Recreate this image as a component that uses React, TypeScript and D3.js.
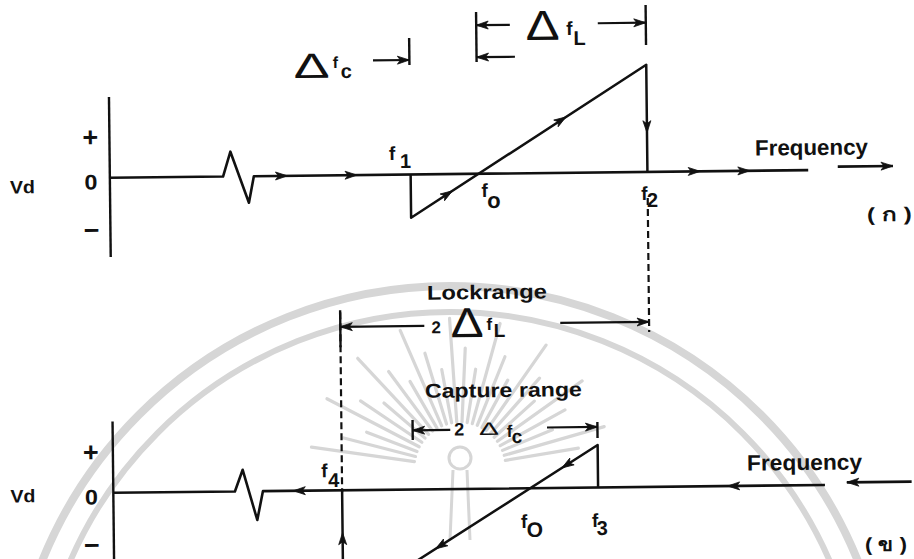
import React from "react";
import * as d3 from "d3";

type Pt = [number, number];

const WIDTH = 914;
const HEIGHT = 559;

// Frequency is in arbitrary units measured from the Vd axis (0–100 across the figure);
// Vd is in units of the axis half-height.

// (ก) input frequency swept upwards
const upKeyFreqs = [37.6, 46.0, 67.2]; // f1, f0, f2
const upKeySubs = ["1", "o", "2"];
const upBaseline: Pt[] = [[0, 0], [14.15, 0], [15.1, 0.31], [17.35, -0.33], [18.0, 0], [87.3, 0]];
const upResponse: Pt[] = [[37.6, 0], [37.6, -0.54], [67.2, 1.34], [67.2, 0]];
const upBaseArrows = [22.2, 30.9, 73.8, 80.0];
const upRampArrows = [42.8, 57.1];
const upEdgeArrows = [0.49];
const upTail: Pt[] = [[91.0, 0.04], [97.9, 0.04]];
const upAxisRange = [-0.99, 1.01];

// (ข) input frequency swept downwards
const downKeyFreqs = [28.6, 52.1, 60.6]; // f4, f0, f3
const downKeySubs = ["4", "O", "3"];
const downBaseline: Pt[] = [[0, 0], [15.2, 0], [16.2, 0.27], [17.96, -0.36], [18.7, 0], [88.96, 0]];
const downResponse: Pt[] = [[60.6, 0], [60.6, 0.53], [28.6, -1.47], [28.6, 0]];
const downBaseArrows = [76.8, 22.5];
const downRampArrows = [56.1, 40.2];
const downEdgeArrows = [-0.53];
const downTail: Pt[] = [[99.8, 0.03], [91.7, 0.03]];
const downAxisRange = [-1.2, 0.89];

const vTickValues = [0.5, -0.05, -0.66];
const vTickLabels = ["+", "0", "\u2212"];
const panelTags = ["( ก )", "( ข )"];

// span markers: [from, to] in frequency units
const captureHalfSpan: Pt = [33.05, 37.6];
const lockHalfSpan: Pt = [46.0, 67.2];
const lockSpan: Pt = [28.6, 67.2];
const captureSpan: Pt = [37.5, 60.6];

const FONT = "'Liberation Sans', Arial, sans-serif";
const INK = "#111";
const WATERMARK = "#d6d6d6";

const x = d3.scaleLinear().domain([0, 100]).range([111, 911]);
const yUp = d3.scaleLinear().domain([-1, 1]).range([254, 94]);
const yDown = d3.scaleLinear().domain([-1, 1]).range([569, 409]);

function Arrowhead({ px, py, angle }: { px: number; py: number; angle: number }) {
  return (
    <path
      d="M0,0 L-12,-4 L-9,0 L-12,4 Z"
      fill={INK}
      stroke={INK}
      strokeWidth={0.8}
      strokeLinejoin="round"
      transform={`translate(${px},${py}) rotate(${angle})`}
    />
  );
}

function angleOf(dx: number, dy: number) {
  return (Math.atan2(dy, dx) * 180) / Math.PI;
}

function interpV(a: Pt, b: Pt, f: number) {
  return a[1] + ((f - a[0]) / (b[0] - a[0])) * (b[1] - a[1]);
}

type PanelProps = {
  y: d3.ScaleLinear<number, number>;
  baseline: Pt[];
  response: Pt[];
  baseArrows: number[];
  rampArrows: number[];
  edgeArrows: number[];
  tail: Pt[];
  axisRange: number[];
  sweep: number;
  keyFreqs: number[];
  keySubs: string[];
  keyOffsets: { dx: number; dy: number; sx: number; sy: number; size: number }[];
  freqLabel: { x: number; y: number; w: number };
  tag: { text: string; x: number; y: number; w: number };
  vd: { x: number; y: number };
  tickX: number;
};

function Panel(p: PanelProps) {
  const line = d3
    .line<Pt>()
    .x((d) => x(d[0]))
    .y((d) => p.y(d[1]));
  const y0 = p.y(0);
  const rampA = p.response[1];
  const rampB = p.response[2];
  const edgeA = p.response[2];
  const edgeB = p.response[3];
  const rampAngle = angleOf(x(rampB[0]) - x(rampA[0]), p.y(rampB[1]) - p.y(rampA[1]));
  const edgeAngle = angleOf(0, p.y(edgeB[1]) - p.y(edgeA[1]));
  const tailAngle = angleOf(x(p.tail[1][0]) - x(p.tail[0][0]), 0);
  return (
    <g>
      {/* Vd axis */}
      <line
        x1={x(0)}
        x2={x(0)}
        y1={p.y(p.axisRange[1])}
        y2={p.y(p.axisRange[0])}
        stroke={INK}
        strokeWidth={2.4}
      />
      {vTickValues.map((v, i) => (
        <text
          key={i}
          x={p.tickX}
          y={p.y(v) + (i === 1 ? 7.5 : 8.5)}
          textAnchor="middle"
          fontFamily={FONT}
          fontWeight="bold"
          fontSize={i === 1 ? 21 : 27}
          textLength={i === 1 ? 13 : undefined}
          lengthAdjust="spacingAndGlyphs"
          fill={INK}
        >
          {vTickLabels[i]}
        </text>
      ))}
      <text
        x={p.vd.x}
        y={p.vd.y}
        fontFamily={FONT}
        fontWeight="bold"
        fontSize={18}
        textLength={25}
        lengthAdjust="spacingAndGlyphs"
        fill={INK}
      >
        Vd
      </text>
      {/* zero line with the beat-note wiggle */}
      <path d={line(p.baseline) || ""} fill="none" stroke={INK} strokeWidth={2.6} strokeLinejoin="round" />
      {/* phase-detector output while locked */}
      <path d={line(p.response) || ""} fill="none" stroke={INK} strokeWidth={2.5} strokeLinejoin="round" />
      <path d={line(p.tail) || ""} fill="none" stroke={INK} strokeWidth={2.6} />
      <Arrowhead px={x(p.tail[1][0])} py={p.y(p.tail[1][1])} angle={tailAngle} />
      {p.baseArrows.map((f, i) => (
        <Arrowhead key={`b${i}`} px={x(f)} py={y0} angle={p.sweep > 0 ? 0 : 180} />
      ))}
      {p.rampArrows.map((f, i) => (
        <Arrowhead key={`r${i}`} px={x(f)} py={p.y(interpV(rampA, rampB, f))} angle={rampAngle} />
      ))}
      {p.edgeArrows.map((v, i) => (
        <Arrowhead key={`e${i}`} px={x(edgeA[0])} py={p.y(v)} angle={edgeAngle} />
      ))}
      {p.keyFreqs.map((f, i) => {
        const o = p.keyOffsets[i];
        return (
          <g key={`k${i}`} fontFamily={FONT} fontWeight="bold" fill={INK}>
            <text x={x(f) + o.dx} y={y0 + o.dy} fontSize={19}>
              f
            </text>
            <text x={x(f) + o.dx + o.sx} y={y0 + o.dy + o.sy} fontSize={o.size}>
              {p.keySubs[i]}
            </text>
          </g>
        );
      })}
      <text
        x={p.freqLabel.x}
        y={p.freqLabel.y}
        fontFamily={FONT}
        fontWeight="bold"
        fontSize={22}
        textLength={p.freqLabel.w}
        lengthAdjust="spacingAndGlyphs"
        fill={INK}
      >
        Frequency
      </text>
      <text
        x={p.tag.x}
        y={p.tag.y}
        fontFamily={FONT}
        fontWeight="bold"
        fontSize={19}
        textLength={p.tag.w}
        lengthAdjust="spacingAndGlyphs"
        fill={INK}
      >
        {p.tag.text}
      </text>
    </g>
  );
}

function Span({ from, to, y }: { from: number; to: number; y: number }) {
  const a = x(from);
  const b = x(to);
  return (
    <g>
      <line x1={a} x2={b} y1={y} y2={y} stroke={INK} strokeWidth={2.2} />
      <Arrowhead px={b} py={y} angle={b > a ? 0 : 180} />
    </g>
  );
}

function Tick({ f, y1, y2 }: { f: number; y1: number; y2: number }) {
  return <line x1={x(f)} x2={x(f)} y1={y1} y2={y2} stroke={INK} strokeWidth={2.4} />;
}

function Delta({ x0, y0, size, w }: { x0: number; y0: number; size: number; w: number }) {
  return (
    <text
      x={x0}
      y={y0}
      fontFamily={FONT}
      fontWeight="normal"
      fontSize={size}
      textLength={w}
      lengthAdjust="spacingAndGlyphs"
      fill={INK}
    >
      Δ
    </text>
  );
}

function Watermark() {
  const cx = 460;
  const cy = 468;
  const angles = d3.range(188, 354, 6.5);
  return (
    <g stroke={WATERMARK} fill="none">
      <circle cx={450} cy={726} r={440} strokeWidth={8} />
      <circle cx={450} cy={726} r={414} strokeWidth={6} />
      {angles.map((a, i) => {
        const t = (a * Math.PI) / 180;
        const r1 = 46;
        const r2 = i % 3 === 0 ? 150 : i % 3 === 1 ? 120 : 100;
        return (
          <line
            key={i}
            x1={cx + r1 * Math.cos(t)}
            y1={cy + r1 * Math.sin(t)}
            x2={cx + r2 * Math.cos(t)}
            y2={cy + r2 * Math.sin(t)}
            strokeWidth={3.2}
            strokeLinecap="round"
          />
        );
      })}
      <circle cx={460} cy={458} r={11} strokeWidth={3} />
      <path d="M453,470 L450,540 M467,470 L470,540" strokeWidth={3} />
    </g>
  );
}

export default function App() {
  const [, f0u, f2] = upKeyFreqs;
  const [f4, , f3] = downKeyFreqs;
  return (
    <svg
      width={WIDTH}
      height={HEIGHT}
      viewBox={`0 0 ${WIDTH} ${HEIGHT}`}
      style={{ position: "absolute", left: 0, top: 0, background: "#fff" }}
    >
      <rect width={WIDTH} height={HEIGHT} fill="#fff" />
      <Watermark />
      <g transform="rotate(-0.63 457 280)">
        <Panel
          y={yUp}
          baseline={upBaseline}
          response={upResponse}
          baseArrows={upBaseArrows}
          rampArrows={upRampArrows}
          edgeArrows={upEdgeArrows}
          tail={upTail}
          axisRange={upAxisRange}
          sweep={1}
          keyFreqs={upKeyFreqs}
          keySubs={upKeySubs}
          keyOffsets={[
            { dx: -21.5, dy: -14.7, sx: 11, sy: 8, size: 20 },
            { dx: 3.5, dy: 23.3, sx: 5.5, sy: 11, size: 22 },
            { dx: -6.4, dy: 28, sx: 5.5, sy: 7, size: 20 },
          ]}
          freqLabel={{ x: 756.4, y: 158.9, w: 113 }}
          tag={{ text: panelTags[0], x: 867.6, y: 225.5, w: 45 }}
          vd={{ x: 11, y: 188.5 }}
          tickX={92}
        />
        <Panel
          y={yDown}
          baseline={downBaseline}
          response={downResponse}
          baseArrows={downBaseArrows}
          rampArrows={downRampArrows}
          edgeArrows={downEdgeArrows}
          tail={downTail}
          axisRange={downAxisRange}
          sweep={-1}
          keyFreqs={downKeyFreqs}
          keySubs={downKeySubs}
          keyOffsets={[
            { dx: -20.8, dy: -13.3, sx: 7, sy: 10, size: 20 },
            { dx: -9.4, dy: 39.8, sx: 5.5, sy: 9, size: 21 },
            { dx: -6.4, dy: 39.6, sx: 4.5, sy: 8, size: 20 },
          ]}
          freqLabel={{ x: 745, y: 473.8, w: 115 }}
          tag={{ text: panelTags[1], x: 862, y: 555.5, w: 42 }}
          vd={{ x: 8, y: 497.5 }}
          tickX={89}
        />

        {/* Δfc and Δf_L above panel (ก) */}
        <g fontFamily={FONT} fontWeight="bold" fill={INK}>
          <Delta x0={296} y0={76.2} size={35} w={36} />
          <text x={335} y={66.6} fontSize={16}>f</text>
          <text x={343} y={76.7} fontSize={20}>c</text>
          <Tick f={captureHalfSpan[1]} y1={37.5} y2={64.5} />
          <Span from={captureHalfSpan[0]} to={captureHalfSpan[1]} y={59.5} />

          <Tick f={lockHalfSpan[0]} y1={12.3} y2={62.3} />
          <Tick f={lockHalfSpan[1]} y1={7} y2={47} />
          <Span from={50.2} to={f0u} y={25.4} />
          <Span from={50.8} to={f0u} y={57.4} />
          <Span from={61.2} to={f2} y={24.8} />
          <Delta x0={528.5} y0={40.8} size={42} w={34} />
          <text x={569} y={36.2} fontSize={19}>f</text>
          <text x={576} y={46.3} fontSize={20}>L</text>
        </g>

        {/* lock range */}
        <g fontFamily={FONT} fontWeight="bold" fill={INK}>
          <line x1={x(f2)} x2={x(f2)} y1={200} y2={334} stroke={INK} strokeWidth={2.2} strokeDasharray="7 4" />
          <line x1={x(f4)} x2={x(f4)} y1={311} y2={491} stroke={INK} strokeWidth={2.2} strokeDasharray="7 4" />
          <Tick f={lockSpan[0]} y1={309} y2={346} />
          <Span from={39.1} to={lockSpan[0]} y={325.5} />
          <Span from={56.1} to={lockSpan[1]} y={324} />
          <text x={486.8} y={299.3} fontSize={20} textAnchor="middle" textLength={120} lengthAdjust="spacingAndGlyphs">
            Lockrange
          </text>
          <text x={431} y={333} fontSize={17}>2</text>
          <Delta x0={450} y0={337.1} size={42} w={33} />
          <text x={486} y={330.3} fontSize={17}>f</text>
          <text x={493} y={337.4} fontSize={19}>L</text>
        </g>

        {/* capture range */}
        <g fontFamily={FONT} fontWeight="bold" fill={INK}>
          <text x={502.2} y={397.5} fontSize={20} textAnchor="middle" textLength={157} lengthAdjust="spacingAndGlyphs">
            Capture range
          </text>
          <Tick f={captureSpan[0]} y1={419.5} y2={439.5} />
          <Tick f={captureSpan[1]} y1={423.5} y2={439.5} />
          <Span from={42.2} to={captureSpan[0]} y={429.8} />
          <Span from={54.3} to={f3} y={428.5} />
          <text x={452.5} y={435.5} fontSize={18}>2</text>
          <Delta x0={477.3} y0={435.3} size={18} w={20} />
          <text x={505} y={437.5} fontSize={17}>f</text>
          <text x={510} y={443.7} fontSize={19}>c</text>
        </g>
      </g>
    </svg>
  );
}
